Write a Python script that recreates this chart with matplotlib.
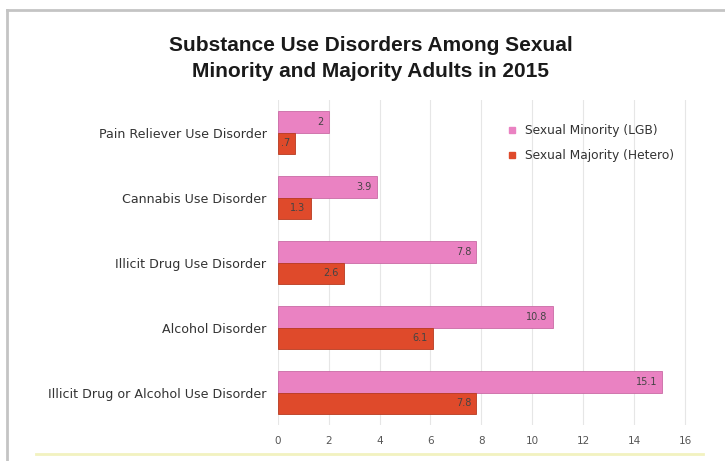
import matplotlib.pyplot as plt
from matplotlib.lines import Line2D
import numpy as np

categories = ["Pain Reliever Use Disorder", "Cannabis Use Disorder", "Illicit Drug Use Disorder",
              "Alcohol Disorder", "Illicit Drug or Alcohol Use Disorder"]
minority = [2, 3.9, 7.8, 10.8, 15.1]
majority = [0.7, 1.3, 2.6, 6.1, 7.8]
series_names = ["Sexual Minority (LGB)", "Sexual Majority (Hetero)"]
xticks = [0, 2, 4, 6, 8, 10, 12, 14, 16]

pink = '#ea82c2'
red = '#df4a2b'

fig = plt.figure(figsize=(7.25, 4.61), dpi=100)
ax = fig.add_axes([0.383, 0.078, 0.583, 0.705])

y = np.arange(len(categories))
h = 0.33
ax.barh(y - h/2, minority, height=h, color=pink, edgecolor='#c96aa5', linewidth=0.6)
ax.barh(y + h/2, majority, height=h, color=red, edgecolor='#b83a20', linewidth=0.6)

def lab(v):
    s = f"{v:g}"
    return s[1:] if s.startswith("0.") else s

for yi, v in zip(y, minority):
    ax.text(v - 0.2, yi - h/2, lab(v), ha='right', va='center', fontsize=7, color='#444444')
for yi, v in zip(y, majority):
    ax.text(v - 0.2, yi + h/2, lab(v), ha='right', va='center', fontsize=7, color='#444444')

ax.set_xlim(0, 16.6)
ax.set_ylim(len(categories) - 0.5, -0.5)
ax.set_xticks(xticks)
ax.set_yticks(y)
ax.set_yticklabels(categories, fontsize=9.1, color='#333333')
ax.tick_params(axis='x', labelsize=7.5, colors='#555555', length=0, pad=8)
ax.tick_params(axis='y', length=0, pad=8)
ax.grid(axis='x', color='#e6e6e6', linewidth=0.8)
ax.set_axisbelow(True)
for s in ax.spines.values():
    s.set_visible(False)

handles = [Line2D([], [], marker='s', linestyle='', color=pink, markersize=5),
           Line2D([], [], marker='s', linestyle='', color=red, markersize=5)]
ax.legend(handles, series_names, loc='upper left', bbox_to_anchor=(0.5, 0.96), frameon=False,
          fontsize=8.8, handletextpad=0.05, labelspacing=1.0, labelcolor='#333333')

fig.text(0.511, 0.873, "Substance Use Disorders Among Sexual\nMinority and Majority Adults in 2015",
         ha='center', va='center', fontsize=15, fontweight='bold', family='Liberation Sans',
         linespacing=1.45, color='#1a1a1a')

# frame lines
fig.add_artist(Line2D([0.01, 1.0], [0.978, 0.978], color='#c4c4c4', linewidth=2))
fig.add_artist(Line2D([0.01, 0.01], [0.0, 0.978], color='#c4c4c4', linewidth=2))
fig.add_artist(Line2D([0.05, 0.97], [0.015, 0.015], color='#f2f2c0', linewidth=2))

fig.savefig('out.png')
